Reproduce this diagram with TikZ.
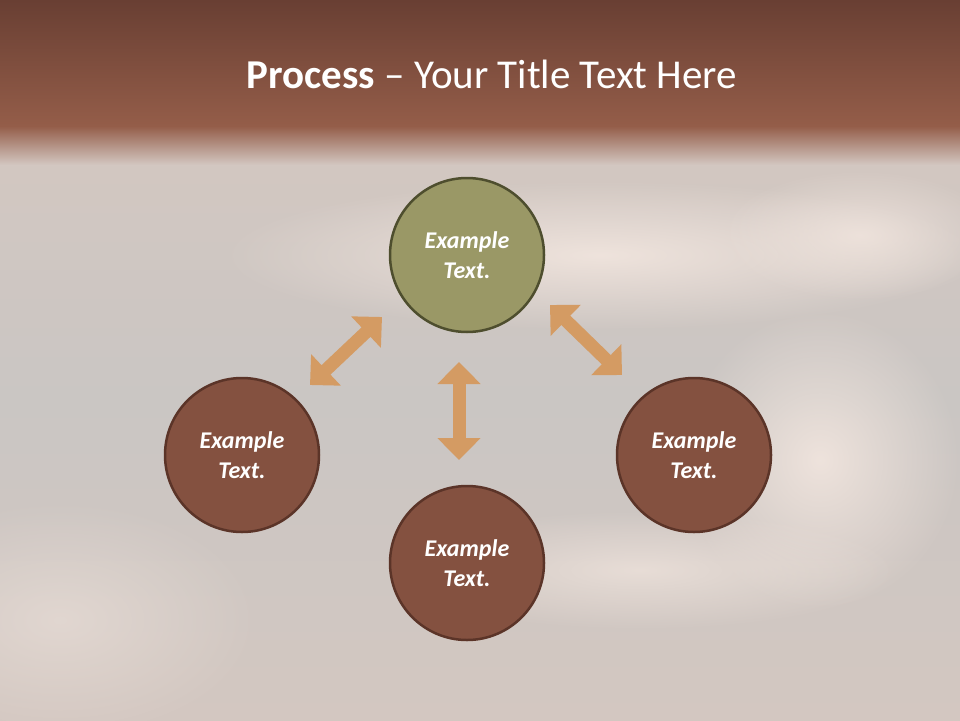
\documentclass[tikz,border=0pt]{standalone}
\usepackage{fontspec}
\setmainfont{Carlito}
\usetikzlibrary{arrows.meta,fadings}
\definecolor{topA}{HTML}{693F33}
\definecolor{topB}{HTML}{945D49}
\definecolor{bgA}{HTML}{D3C7C1}
\definecolor{bgB}{HTML}{CAC6C3}
\definecolor{glowC}{HTML}{F2E6DF}
\definecolor{oliveF}{HTML}{9A9866}
\definecolor{oliveD}{HTML}{4E4E2E}
\definecolor{brownF}{HTML}{845140}
\definecolor{brownD}{HTML}{5B3428}
\definecolor{arrowC}{HTML}{D49B63}
\tikzfading[name=softglow, inner color=transparent!0, outer color=transparent!100]
\tikzset{
  stepcircle/.style={circle, minimum size=154pt, line width=2.5pt, inner sep=0pt,
    text=white, font=\fontsize{24}{30}\selectfont\bfseries\itshape, align=center},
  greencirc/.style={stepcircle, fill=oliveF, draw=oliveD},
  browncirc/.style={stepcircle, fill=brownF, draw=brownD},
  dblarrow/.style={draw=arrowC, line width=13pt,
    {Triangle[width=42pt,length=22pt,fill=arrowC]}-{Triangle[width=42pt,length=22pt,fill=arrowC]}},
  glow/.style={fill=glowC, path fading=softglow}
}
\begin{document}
\begin{tikzpicture}[x=1pt,y=-1pt]
\useasboundingbox (0,0) rectangle (960,720);
% background
\fill[bgB] (0,0) rectangle (960,720);
\shade[top color=bgA, bottom color=bgB] (0,140) rectangle (960,400);
\shade[top color=bgB, bottom color=bgA] (0,400) rectangle (960,720);
% light swirls
\fill[glow, opacity=0.9] (600,255) ellipse (380 and 75);
\fill[glow, opacity=0.8] (860,235) ellipse (140 and 65);
\fill[glow, opacity=0.9] (820,460) ellipse (140 and 150);
\fill[glow, opacity=0.7] (640,570) ellipse (260 and 60);
\fill[glow, opacity=0.5] (60,620) ellipse (200 and 120);
% top band
\shade[top color=topA, bottom color=topB] (0,0) rectangle (960,126);
\shade[top color=topB, bottom color=bgA] (0,126) rectangle (960,165);
% title
\node[anchor=base, text=white, font=\fontsize{41}{50}\selectfont] (title) at (492,88)
  {\textbf{Process} – Your Title Text Here};
% circles
\node[greencirc] (top) at (467,255) {Example\\Text.};
\node[browncirc] (left) at (242,455) {Example\\Text.};
\node[browncirc] (right) at (694,455) {Example\\Text.};
\node[browncirc] (bottom) at (467,563) {Example\\Text.};
% arrow ends
\coordinate (la) at (310,385);
\coordinate (lb) at (382,317);
\coordinate (ra) at (550,305);
\coordinate (rb) at (622,375);
\coordinate (va) at (459,362);
\coordinate (vb) at (459,460);
\draw[dblarrow] (la) -- (lb);
\draw[dblarrow] (ra) -- (rb);
\draw[dblarrow] (va) -- (vb);
\end{tikzpicture}
\end{document}
